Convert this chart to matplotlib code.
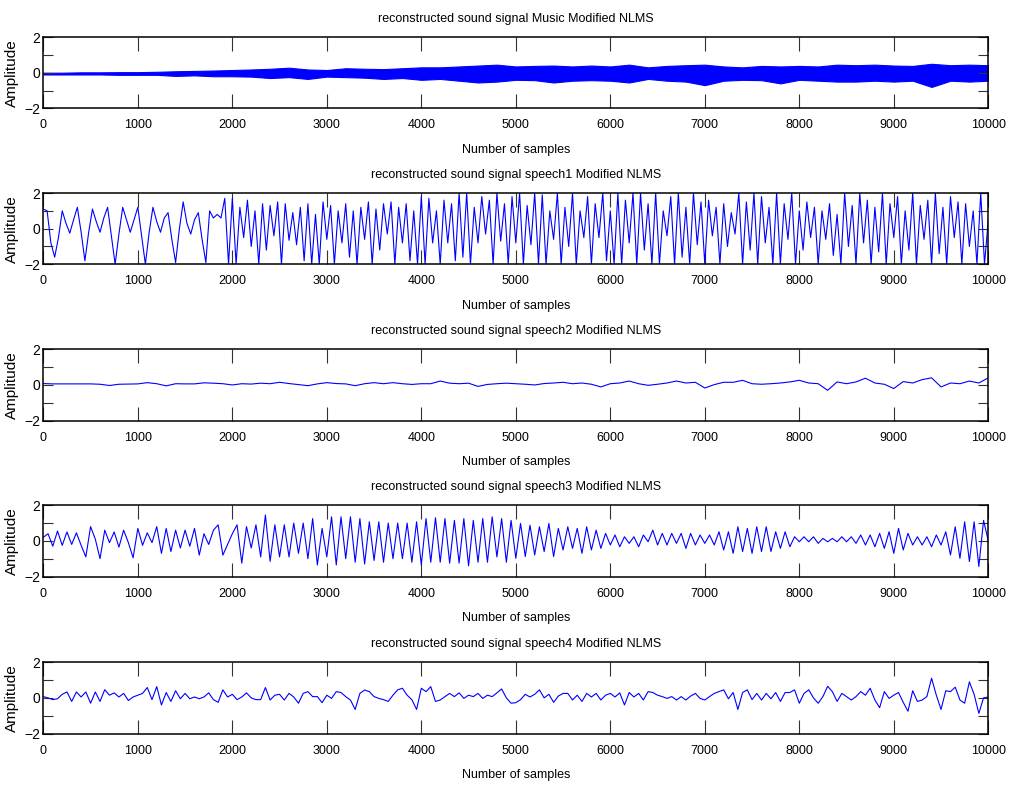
import numpy as np
import matplotlib.pyplot as plt
from matplotlib.ticker import FixedLocator

plt.rcParams['font.family'] = ['Liberation Sans', 'DejaVu Sans']

n_samples = 10000
x_ticks = list(range(0, 10001, 1000))
y_ticks = [-2, 0, 2]

titles = [
    "reconstructed sound signal Music Modified NLMS",
    "reconstructed sound signal speech1 Modified NLMS",
    "reconstructed sound signal speech2 Modified NLMS",
    "reconstructed sound signal speech3 Modified NLMS",
    "reconstructed sound signal speech4 Modified NLMS",
]

# Music: dense band, read as upper / lower envelope every 200 samples
music_step = 200
music_upper = [0.0, 0.0, 0.02, 0.02, 0.03, 0.03, 0.05, 0.08, 0.10, 0.12,
               0.15, 0.18, 0.22, 0.28, 0.18, 0.15, 0.25, 0.22, 0.20, 0.25,
               0.30, 0.30, 0.35, 0.40, 0.45, 0.35, 0.38, 0.40, 0.35, 0.40,
               0.35, 0.45, 0.30, 0.38, 0.42, 0.45, 0.35, 0.30, 0.38, 0.35,
               0.38, 0.35, 0.45, 0.42, 0.45, 0.40, 0.38, 0.50, 0.42, 0.45,
               0.42]
music_lower = [-0.10, -0.10, -0.10, -0.10, -0.12, -0.12, -0.12, -0.18, -0.15, -0.20,
               -0.20, -0.22, -0.30, -0.25, -0.35, -0.22, -0.25, -0.28, -0.35, -0.30,
               -0.40, -0.35, -0.45, -0.55, -0.50, -0.40, -0.42, -0.55, -0.45, -0.42,
               -0.45, -0.55, -0.35, -0.45, -0.50, -0.70, -0.45, -0.40, -0.42, -0.60,
               -0.40, -0.45, -0.50, -0.50, -0.45, -0.50, -0.45, -0.80, -0.45, -0.50,
               -0.45]

speech1_step = 40
speech1 = [
    1.1, 1.0, -0.8, -1.6, -0.5, 1.0, 0.3, -0.25, 0.5, 1.2,
    -0.2, -1.8, -0.2, 1.1, 0.4, -0.2, 0.6, 1.2, -0.4, -2.0,
    -0.3, 1.2, 0.5, -0.2, 0.5, 1.2, -0.4, -2.0, -0.2, 1.2,
    0.4, -0.2, 0.6, 0.9, -0.6, -1.9, 0.0, 1.5, 0.3, -0.3,
    0.5, 0.9, -0.6, -1.9, 1.0, 0.6, 0.8, 0.6, 1.7, -2.0,
    1.7,
    -2.0, 1.2, -0.5, 1.6, -1.0, 1.0, -2.0, 1.4, -1.2, 1.3,
    -0.4, 1.5, -2.0, 1.4, -0.65, 0.9, -0.9, 1.2, -1.8, 1.4,
    -2.0, 0.8, -2.0, 1.5, -0.6,
    1.3, -2.0, 1.0, -0.8, 1.4, -1.6, 1.0, -2.0, 1.2, -0.6,
    1.5, -2.0, 1.1, -1.2, 1.4, -0.3, 1.5, -2.0, 1.2, -0.8,
    1.4, -1.8, 1.0, -2.0, 1.8,
    -2.0, 1.7, -0.8, 1.0, -2.0, 1.6, -0.8, 1.4, -1.8, 2.0,
    -1.6, 2.0, -2.0, 1.2, -0.8, 1.8, -0.3, 1.6, -2.0, 2.0,
    -0.7, 1.4, -2.0, 1.8, -0.8,
    2.0, -2.0, 1.3, -0.9, 2.0, -2.0, 1.9, -2.0, 1.0, -0.6,
    2.0, -2.0, 1.2, -1.0, 2.0, -2.0, 1.0, -0.5, 1.8, -2.0,
    1.4, -0.5, 2.0, -1.8, 1.0,
    -2.0, 2.0, -2.0, 1.6, -0.8, 2.0, -2.0, 2.0, -1.2, 1.4,
    -2.0, 2.0, -2.0, 1.0, -0.4, 1.8, -2.0, 2.0, -1.6, 1.2,
    -2.0, 2.0, -0.9, 1.5, -2.0,
    1.6, -0.4, 1.2, -2.0, 1.4, -1.0, 0.9, -0.3, 2.0, -2.0,
    1.5, -1.2, 2.0, -2.0, 1.8, -0.8, 1.2, -2.0, 2.0, -2.0,
    1.4, -0.6, 2.0, -2.0, 1.0,
    -1.2, 1.5, -0.5, 1.2, -2.0, 1.0, -0.6, 1.4, -1.5, 0.8,
    -2.0, 2.0, -1.0, 1.3, -2.0, 2.0, -0.8, 1.6, -2.0, 1.2,
    -1.3, 2.0, -2.0, 1.4, -0.5,
    1.8, -2.0, 1.0, -1.2, 2.0, -2.0, 1.3, -0.6, 1.6, -2.0,
    2.0, -1.4, 1.2, -2.0, 1.8, -0.5, 1.5, -2.0, 1.4, -1.0,
    1.0, -2.0, 2.0, -2.0, 0.5,
]

speech2_step = 100
speech2 = [
    0.08, 0.06, 0.06, 0.06, 0.06, 0.06, 0.04, -0.03, 0.04, 0.05,
    0.06, 0.13, 0.07, -0.05, 0.07, 0.06, 0.06, 0.12, 0.10, 0.07,
    0.00, 0.07, 0.05, 0.10, 0.07, 0.15, 0.08, 0.02, -0.04, 0.06,
    0.13, 0.08, 0.06, -0.04, 0.07, 0.13, 0.07, 0.13, 0.07, 0.03,
    0.07, 0.07, 0.22, 0.10, 0.07, 0.10, -0.08, 0.03, 0.07, 0.10,
    0.07, 0.04, 0.00, 0.08, 0.11, 0.15, 0.07, 0.11, 0.04, -0.11,
    0.07, 0.11, 0.22, 0.07, -0.02, 0.04, 0.11, 0.22, 0.11, 0.15,
    -0.17, 0.02, 0.15, 0.15, 0.26, 0.07, 0.04, 0.07, 0.11, 0.17,
    0.26, 0.11, 0.07, -0.30, 0.17, 0.07, 0.17, 0.38, 0.11, 0.04,
    -0.20, 0.19, 0.11, 0.30, 0.40, -0.11, 0.11, 0.07, 0.22, 0.11,
    0.40,
]

speech3_step = 50
speech3 = [
    0.2, 0.4, -0.3, 0.55, -0.25, 0.5, -0.2, 0.45, -0.25, -0.9,
    0.8, 0.1, -1.0, 0.6, -0.1, 0.5, -0.35, 0.6, -0.1, -0.95,
    0.7, -0.25, 0.45, -0.1, 0.8, -0.7, 0.7, -0.6, 0.6, -0.4,
    0.6, -0.3, 0.7, -0.8, 0.4, -0.2, 0.6, 0.9, -0.8, -0.2,
    0.4, 0.9, -1.25, 0.8, -0.4, 0.9, -0.9, 1.45, -1.15, 0.9,
    -0.9, 0.9, -0.9, 1.0, -0.7, 1.0, -1.0, 1.25, -1.35, 0.7,
    -0.9, 1.35, -1.35, 1.35, -1.0, 1.35, -1.2, 1.25, -1.3, 1.07,
    -1.1, 1.07, -1.2, 1.0, -1.0, 1.0, -1.0, 1.0, -1.2, 1.07,
    -1.35, 1.25, -1.2, 1.3, -1.2, 1.25, -1.25, 1.15, -1.25, 1.25,
    -1.4, 1.15, -1.2, 1.25, -1.2, 1.35, -0.9, 1.25, -1.2, 1.15,
    -0.98, 0.98, -0.88, 0.88, -0.79, 0.79, -0.6, 0.98, -0.88, 0.7,
    -0.51, 0.79, -0.42, 0.7, -0.7, 0.79, -0.51, 0.6, -0.42, 0.42,
    -0.23, 0.33, -0.33, 0.23, -0.14, 0.23, -0.33, 0.33, -0.05, 0.6,
    -0.23, 0.42, -0.23, 0.42, -0.14, 0.42, -0.42, 0.42, -0.23, 0.33,
    -0.14, 0.33, -0.23, 0.51, -0.51, 0.51, -0.7, 0.79, -0.6, 0.7,
    -0.7, 0.79, -0.6, 0.79, -0.6, 0.51, -0.42, 0.51, -0.33, 0.23,
    -0.05, 0.23, -0.05, 0.23, -0.14, 0.14, -0.05, 0.14, -0.05, 0.23,
    -0.05, 0.23, -0.14, 0.33, -0.23, 0.33, -0.33, 0.42, -0.42, 0.51,
    -0.7, 0.7, -0.51, 0.42, -0.23, 0.23, -0.23, 0.23, -0.33, 0.33,
    -0.23, 0.51, -0.79, 0.79, -0.98, 1.07, -1.16, 1.07, -1.44, 1.15,
    0.0,
]

speech4_step = 50
speech4 = [
    0.07, 0.0, -0.1, -0.05, 0.2, 0.33, -0.2, 0.33, 0.05, 0.33,
    -0.3, 0.33, -0.2, 0.46, 0.15, 0.28, 0.05, 0.25, -0.15, 0.05,
    0.15, 0.25, 0.58, -0.1, 0.63, -0.4, 0.3, -0.2, 0.4, -0.05,
    0.25, -0.05, 0.05, -0.05, 0.05, 0.28, -0.1, -0.25, 0.45, 0.05,
    0.2, -0.1, 0.05, 0.28, 0.0, -0.1, -0.1, 0.58, -0.12, 0.15,
    0.2, -0.12, 0.25, 0.05, -0.3, 0.25, 0.35, 0.07, 0.07, -0.27,
    0.15, -0.03, 0.35, 0.3, 0.07, -0.12, -0.65, 0.25, 0.44, 0.35,
    0.07, -0.03, -0.1, -0.2, 0.15, 0.45, 0.54, 0.15, -0.1, -0.65,
    0.54, 0.35, 0.63, -0.2, -0.12, 0.07, 0.25, 0.07, 0.28, -0.03,
    0.15, 0.07, 0.25, -0.03, 0.15, 0.07, 0.28, 0.5, 0.0, -0.3,
    -0.27, -0.1, 0.2, 0.05, 0.2, 0.45, 0.0, 0.2, -0.25, 0.1,
    0.25, 0.25, -0.12, 0.15, -0.2, 0.25, 0.05, 0.25, -0.12, 0.15,
    0.25, 0.05, 0.28, -0.4, 0.3, 0.05, 0.25, -0.12, 0.35, 0.3,
    0.15, 0.07, -0.03, 0.07, -0.12, 0.07, -0.12, 0.1, 0.25, -0.03,
    -0.12, 0.07, 0.25, 0.35, 0.45, -0.05, 0.3, -0.65, 0.3, 0.45,
    -0.1, 0.25, -0.12, 0.25, -0.05, 0.3, -0.2, 0.3, 0.3, 0.45,
    -0.3, 0.25, 0.45, 0.0, -0.3, 0.07, 0.65, 0.35, -0.2, 0.25,
    0.07, -0.12, 0.07, 0.35, 0.15, 0.54, -0.12, -0.55, 0.35, -0.03,
    0.15, 0.3, -0.25, -0.75, 0.4, -0.2, -0.12, 0.07, 1.1, 0.15,
    -0.65, 0.4, 0.35, 0.6, -0.12, -0.3, 0.9, 0.2, -0.87, 0.0,
    0.05,
]

assert len(music_upper) == len(music_lower) == 51
assert len(speech1) == 251 and len(speech2) == 101
assert len(speech3) == 201 and len(speech4) == 201

blue = (0, 0, 1)
fig = plt.figure(figsize=(10.1, 7.85), dpi=100)
bottoms = [0.862, 0.6633, 0.4642, 0.2656, 0.0656]
axes = [fig.add_axes([0.0429, b, 0.9356, 0.0908]) for b in bottoms]

# music band
mx = np.arange(len(music_upper)) * music_step
axes[0].fill_between(mx, music_lower, music_upper, color=blue, linewidth=0.8)

for ax, vals, step in zip(axes[1:], [speech1, speech2, speech3, speech4],
                          [speech1_step, speech2_step, speech3_step, speech4_step]):
    sx = np.arange(len(vals)) * step
    ax.plot(sx, vals, color=blue, linewidth=0.8)

for ax, title in zip(axes, titles):
    ax.set_xlim(0, n_samples)
    ax.set_ylim(-2, 2)
    ax.set_xticks(x_ticks)
    ax.set_yticks(y_ticks)
    ax.yaxis.set_minor_locator(FixedLocator([-1, 1]))
    ax.tick_params(which='both', direction='in', top=True, right=True,
                   width=0.8, color='#333333')
    ax.tick_params(axis='x', length=10, pad=8, labelsize=9)
    ax.tick_params(axis='y', which='both', length=7, pad=2, labelsize=10)
    for sp in ax.spines.values():
        sp.set_linewidth(1.1)
    ax.set_title(title, fontsize=9, pad=11)
    ax.set_xlabel("Number of samples", fontsize=9, labelpad=9)
    ax.set_ylabel("Amplitude", fontsize=11, labelpad=4)

fig.savefig("out.png", dpi=100)
